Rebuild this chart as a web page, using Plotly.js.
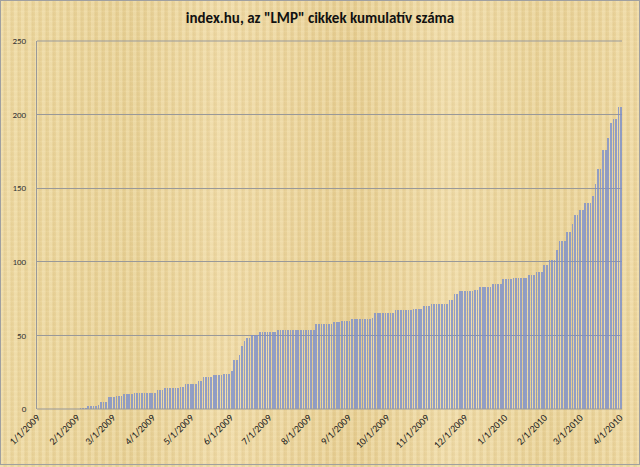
<!DOCTYPE html>
<html>
<head>
<meta charset="utf-8">
<script src="https://cdn.plot.ly/plotly-3.0.1.min.js"></script>
<style>
html,body{margin:0;padding:0;}
#wrap{position:relative;width:640px;height:467px;
 background-color:#ead49c;
 background-image:
  repeating-linear-gradient(90deg, rgba(255,245,210,0.25) 0px, rgba(255,245,210,0.25) 3px, rgba(200,170,100,0.12) 4px, rgba(255,245,210,0.0) 7px),
  repeating-linear-gradient(0deg, rgba(255,240,200,0.18) 0px, rgba(210,180,110,0.10) 2px, rgba(255,240,200,0.0) 5px),
  linear-gradient(90deg, #ecd7a0 0%, #e6cf94 20%, #eed9a6 35%, #e5cc90 55%, #eedaa8 70%, #e7d096 85%, #ecd6a0 100%);}
#chart{width:640px;height:467px;}
#frame{position:absolute;left:0;top:0;width:638px;height:463px;border:1px solid #a0a0a0;pointer-events:none;}
</style>
</head>
<body>
<div id="wrap"><div id="chart"></div><div id="frame"></div></div>
<script>
// Start date of the sampled series and sampling step (days)
var startDate = '2009-02-04';
var stepDays = 2;
var counts = [
  1,1,1,2,2,2,2,3,5,5,
  5,8,8,8,9,9,9,10,10,10,
  10,11,11,11,11,11,11,11,11,11,
  13,13,13,14,14,14,14,14,14,15,
  15,17,17,17,17,17,19,19,22,22,
  22,22,23,23,23,23,24,24,24,26,
  33,33,37,43,46,48,48,50,50,50,
  52,52,52,52,52,52,52,54,54,54,
  54,54,54,54,54,54,54,54,54,54,
  54,54,58,58,58,58,58,58,58,59,
  59,59,60,60,60,60,61,61,61,61,
  61,61,61,61,62,65,65,65,65,65,
  65,65,65,67,67,67,67,67,67,67,
  68,68,68,68,70,70,70,71,71,71,
  71,71,71,71,74,74,78,78,80,80,
  80,80,80,80,81,81,83,83,83,83,
  83,85,85,85,85,88,88,88,88,89,
  89,89,89,89,89,91,91,91,93,93,
  93,98,98,101,101,101,108,114,114,114,
  120,120,126,132,132,135,135,140,140,140,
  145,153,163,163,176,176,184,194,197,197,
  205,205
];
var titleText = 'index.hu, az "LMP" cikkek kumulatív száma';
var yTicks = [0,50,100,150,200,250];

var dates = [];
var p = startDate.split('-');
var t0 = Date.UTC(+p[0], +p[1]-1, +p[2]);
for (var i = 0; i < counts.length; i++) {
  var d = new Date(t0 + i*stepDays*86400000);
  dates.push(d.toISOString().slice(0,10));
}

var trace = {
  type: 'bar',
  x: dates,
  y: counts,
  width: 1.3*86400000,
  marker: {color: 'rgba(122,142,204,0.8)', line: {width: 0}},
  hoverinfo: 'x+y'
};

var layout = {
  width: 640, height: 467,
  paper_bgcolor: 'rgba(0,0,0,0)',
  plot_bgcolor: 'rgba(0,0,0,0)',
  margin: {l: 37, r: 18, t: 41, b: 58},
  title: {text: '<b>' + titleText + '</b>', x: 0.5, xanchor: 'center', y: 0.962, yanchor: 'middle',
          font: {family: 'Carlito, "Liberation Sans Narrow", "Open Sans", sans-serif', size: 15, color: '#111'}},
  showlegend: false,
  bargap: 0,
  xaxis: {
    type: 'date',
    range: ['2009-01-01', '2010-04-02 17:00'],
    tick0: '2009-01-01', dtick: 'M1',
    tickformat: '%-m/%-d/%Y',
    tickangle: -45,
    tickfont: {family: 'Carlito, "Liberation Sans Narrow", "Open Sans", sans-serif', size: 10, color: '#222'},
    showgrid: false, zeroline: false,
    showline: false,
    ticks: '', ticklen: 0
  },
  yaxis: {
    range: [0, 250],
    tickvals: yTicks,
    tickfont: {family: 'Carlito, "Liberation Sans", "Open Sans", sans-serif', size: 9, color: '#333'},
    showgrid: true, gridcolor: '#999999', gridwidth: 1,
    zeroline: false,
    showline: true, linecolor: '#999999', linewidth: 1,
    ticks: '', ticklabelstandoff: 8
  }
};

// bottom axis line and top gridline
layout.shapes = [
  {type: 'line', xref: 'paper', yref: 'paper', x0: 0, x1: 1, y0: 0, y1: 0, line: {color: '#999999', width: 1}},
  {type: 'line', xref: 'paper', yref: 'paper', x0: 0, x1: 1, y0: 1, y1: 1, line: {color: '#999999', width: 1}}
];

Plotly.newPlot('chart', [trace], layout, {displayModeBar: false, staticPlot: true});
</script>
</body>
</html>
